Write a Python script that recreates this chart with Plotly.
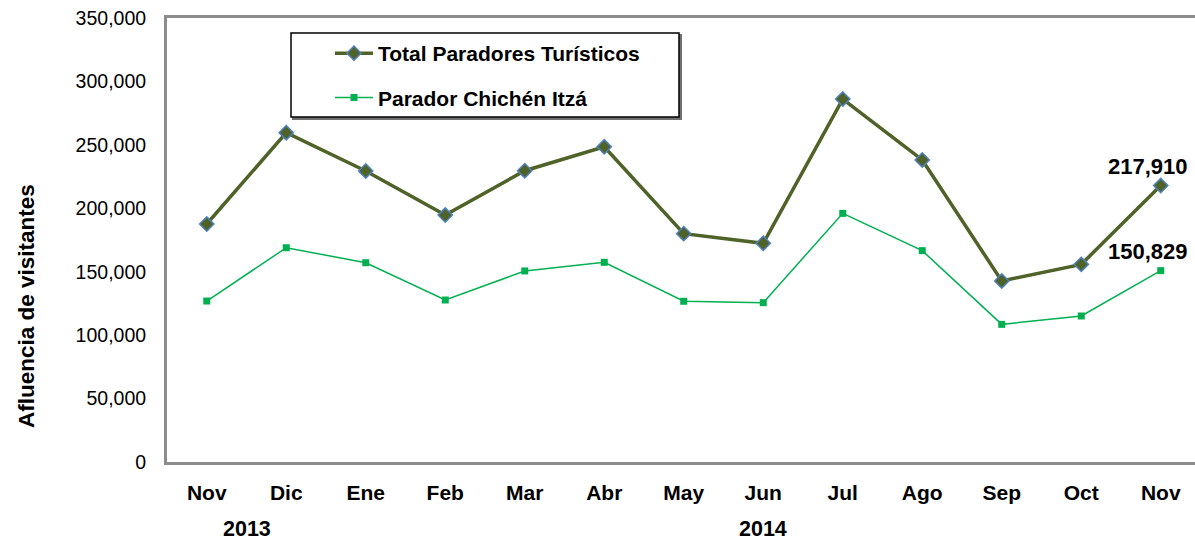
import plotly.graph_objects as go

months = ["Nov", "Dic", "Ene", "Feb", "Mar", "Abr", "May", "Jun", "Jul", "Ago", "Sep", "Oct", "Nov "]
years = ["2013", "2014"]
year_span = [(0, 1), (2, 12)]
total = [187600, 259600, 229400, 194700, 229600, 248500, 180000, 172400, 286100, 238100, 142700, 155800, 217910]
chichen = [126900, 168900, 157100, 127700, 150600, 157400, 126700, 125600, 196000, 166600, 108500, 115100, 150829]
series_names = ["Total Paradores Turísticos", "Parador Chichén Itzá"]
y_ticks = [0, 50000, 100000, 150000, 200000, 250000, 300000, 350000]

FONT = "Liberation Sans, Arial, sans-serif"
W, H = 1195, 542
ML, MR, MT, MB = 167, 0, 18, 80
PW, PH = W - ML - MR, H - MT - MB
STEP = 79.5  # px per category in the reference

def px_x(p):
    return (p - ML) / PW

def px_y(p):
    return (H - MB - p) / PH

x_idx = list(range(len(months)))

fig = go.Figure()
fig.add_trace(go.Scatter(
    x=x_idx, y=total, name=series_names[0], mode="lines+markers",
    line=dict(color="#4F6228", width=3.5),
    marker=dict(symbol="diamond", size=11, color="#4F6228", line=dict(color="#4F81BD", width=1.5)),
    legendgroup="a", cliponaxis=False,
))
fig.add_trace(go.Scatter(
    x=x_idx, y=chichen, name=series_names[1], mode="lines+markers",
    line=dict(color="#00B050", width=1.5),
    marker=dict(symbol="square", size=7, color="#00B050"),
    legendgroup="b", cliponaxis=False,
))

# data labels for last points
for vals in (total, chichen):
    fig.add_annotation(x=x_idx[-1], y=vals[-1], text=f"<b>{vals[-1]:,}</b>", showarrow=False,
                       xref="x", yref="y", yanchor="bottom", yshift=5, xshift=-13,
                       font=dict(family=FONT, size=22, color="black"))

# year labels
for yr, (a, b) in zip(years, year_span):
    fig.add_annotation(x=(a + b) / 2, y=px_y(529), xref="x", yref="paper", text=f"<b>{yr}</b>",
                       xanchor="center", yanchor="middle",
                       showarrow=False, font=dict(family=FONT, size=21.5, color="black"))

# y-axis title
fig.add_annotation(x=px_x(26), y=px_y(306), xref="paper", yref="paper", text="<b>Afluencia de visitantes</b>",
                   xanchor="center", yanchor="middle",
                   textangle=-90, showarrow=False, font=dict(family=FONT, size=22.5, color="black"))

# legend box + shadow
fig.add_shape(type="rect", xref="paper", yref="paper",
              x0=px_x(293), x1=px_x(681), y0=px_y(119), y1=px_y(35),
              line=dict(color="#707070", width=2), fillcolor="#707070", layer="below")
fig.add_shape(type="rect", xref="paper", yref="paper",
              x0=px_x(291), x1=px_x(679), y0=px_y(117), y1=px_y(33),
              line=dict(color="black", width=1.5), fillcolor="white", layer="below")

fig.update_layout(
    width=W, height=H,
    margin=dict(l=ML, r=MR, t=MT, b=MB),
    paper_bgcolor="white", plot_bgcolor="white",
    font=dict(family=FONT, color="black"),
    showlegend=True,
    legend=dict(x=px_x(330), y=px_y(33), xanchor="left", yanchor="top",
                bgcolor="rgba(0,0,0,0)", borderwidth=0, itemwidth=38,
                tracegroupgap=14, traceorder="grouped",
                font=dict(family=FONT, size=21, color="black", weight="bold")),
    xaxis=dict(
        range=[-0.5, -0.5 + PW / STEP], tickmode="array", tickvals=x_idx, ticktext=[f"<b>{m.strip()}</b>" for m in months],
        tickfont=dict(family=FONT, size=21, color="black"), ticks="", showgrid=False, zeroline=False,
        showline=True, mirror=True, linecolor="#8C8C8C", linewidth=3, ticklabelstandoff=10,
    ),
    yaxis=dict(
        range=[0, 350000], tickmode="array", tickvals=y_ticks, ticktext=[f"{v:,}" for v in y_ticks],
        tickfont=dict(family=FONT, size=19.5, color="black"), ticks="", showgrid=False, zeroline=False,
        showline=True, mirror=False, linecolor="#8C8C8C", linewidth=3, ticklabelstandoff=14,
    ),
)

fig.write_html("out.html", config={"displayModeBar": False},
               post_script="document.body.style.margin='0';document.body.style.padding='0';"
                           "document.body.style.overflow='hidden';document.documentElement.style.overflow='hidden';")
